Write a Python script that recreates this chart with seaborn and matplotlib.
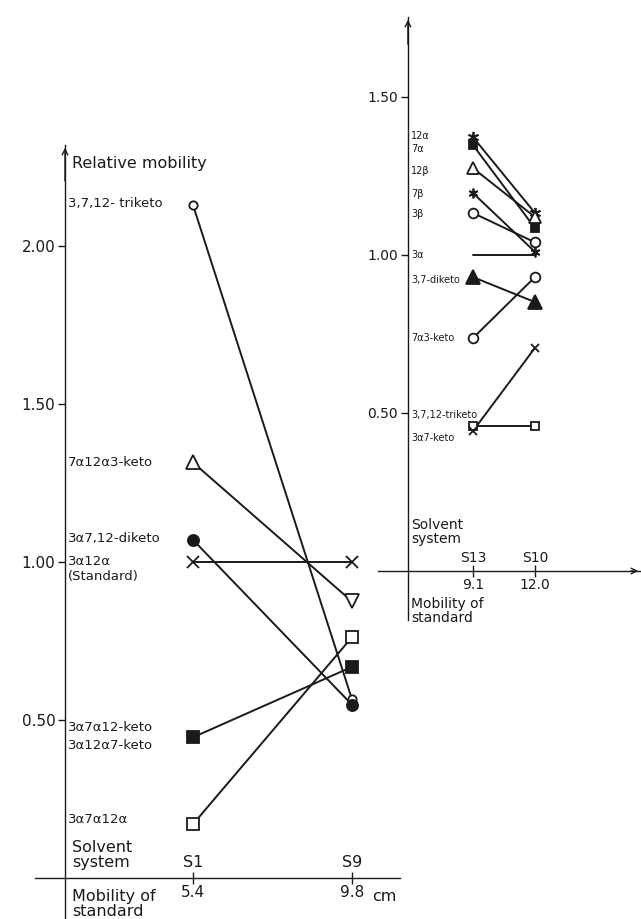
import matplotlib
matplotlib.use("Agg")
import matplotlib.pyplot as plt
import seaborn as sns

sns.set_style("white")
plt.rcParams['font.family'] = ['DejaVu Sans']

INK = '#1a1a1a'

# ---------------------------------------------------------------
# left chart: solvent systems S1 and S9
left_systems = ['S1', 'S9']
left_std = [5.4, 9.8]
left_names = ['3,7,12- triketo', '7α12α3-keto', '3α7,12-diketo', '3α12α',
              '3α7α12-keto', '3α7α12α']
left_s1 = [2.13, 1.315, 1.07, 1.00, 0.445, 0.17]
left_s9 = [0.565, 0.875, 0.548, 1.00, 0.668, 0.762]
left_mk1 = ['o', '^', 'o', 'x', 's', 's']
left_mk9 = ['o', 'v', 'o', 'x', 's', 's']
left_fill = [False, False, True, False, True, False]
left_size = [6, 10, 8, 8, 8, 8]
left_label_y = [2.136, 1.316, 1.073, 1.003, 0.475, 0.184]

# right chart: solvent systems S13 and S10
right_systems = ['S13', 'S10']
right_std = [9.1, 12.0]
right_names = ['12α', '7α', '12β', '7β', '3β', '3α', '3,7-diketo', '7α3-keto',
               '3,7,12-triketo', '3α7-keto']
right_s13 = [1.373, 1.348, 1.275, 1.196, 1.133, 1.00, 0.93, 0.737, 0.459, 0.443]
right_s10 = [1.133, 1.085, 1.12, 1.01, 1.04, 1.00, 0.851, 0.93, 0.459, 0.706]
right_mk = [(6, 2, 0), 's', '^', (6, 2, 0), 'o', None, '^', 'o', 's', 'x']
right_fill = [False, True, False, False, False, False, True, False, False, False]
right_size = [8, 6, 8, 7, 7, 0, 10, 7, 6, 6]
right_label_y = [1.377, 1.335, 1.266, 1.193, 1.130, 1.0, 0.921, 0.737, 0.494, 0.421]

# ---------------------------------------------------------------
W, H = 641, 919
fig = plt.figure(figsize=(W / 100, H / 100), dpi=100)


def make_axes(px_left, px_right, px_top, px_bottom):
    return fig.add_axes([px_left / W, 1 - px_bottom / H,
                         (px_right - px_left) / W, (px_bottom - px_top) / H])


def style_axes(ax, yaxis_x, yticks, xticks, xticklabels, fs):
    sns.despine(ax=ax, top=True, right=True)
    for side in ['left', 'bottom']:
        ax.spines[side].set_color(INK)
        ax.spines[side].set_linewidth(1.0)
    ax.spines['left'].set_position(('data', yaxis_x))
    ax.spines['bottom'].set_position(('data', 0))
    ax.set_yticks(yticks)
    ax.set_yticklabels(['%.2f' % v for v in yticks], fontsize=fs, color=INK)
    ax.set_xticks(xticks)
    ax.set_xticklabels(xticklabels, fontsize=fs, color=INK)
    ax.tick_params(axis='y', direction='out', length=5, width=1, color=INK, pad=2,
                   left=True)
    ax.tick_params(axis='x', direction='inout', length=8, width=1, color=INK, pad=1,
                   bottom=True)
    ax.patch.set_alpha(0)
    # arrow on top of the value axis
    ax.annotate('', xy=(yaxis_x, 1.0), xycoords=('data', 'axes fraction'),
                xytext=(yaxis_x, 0.95), textcoords=('data', 'axes fraction'),
                arrowprops=dict(arrowstyle='->', lw=1.0, color=INK))


def draw_point(ax, x, y, mk, filled, size):
    if mk is None:
        return
    ax.plot([x], [y], marker=mk, markersize=size, linestyle='none',
            markerfacecolor=INK if filled else 'white', markeredgecolor=INK,
            markeredgewidth=1.3, zorder=4, clip_on=False)


# ---------------------------------------------------------------
ax1 = make_axes(35, 400, 145, 918)
ax1.set_xlim(1.028, 11.128)
ax1.set_ylim(-0.127, 2.320)

for i in range(len(left_names)):
    sns.lineplot(x=left_std, y=[left_s1[i], left_s9[i]], ax=ax1, color=INK,
                 linewidth=1.4, zorder=3)
    draw_point(ax1, left_std[0], left_s1[i], left_mk1[i], left_fill[i], left_size[i])
    draw_point(ax1, left_std[1], left_s9[i], left_mk9[i], left_fill[i], left_size[i])

style_axes(ax1, 1.858, [0.5, 1.0, 1.5, 2.0], left_std, ['5.4', '9.8'], 11)

lx = 1.95
for name, yy in zip(left_names, left_label_y):
    ax1.text(lx, yy, name, fontsize=9.5, color=INK, va='center', ha='left')
ax1.text(lx, 0.953, '(Standard)', fontsize=9.5, color=INK, va='center', ha='left')
ax1.text(lx, 0.418, '3α12α7-keto', fontsize=9.5, color=INK, va='center', ha='left')
ax1.text(2.05, 2.263, 'Relative mobility', fontsize=11.5, color=INK, va='center')
ax1.text(2.05, 0.073, 'Solvent\nsystem', fontsize=11.5, color=INK, va='center',
         linespacing=0.95)
ax1.text(2.05, -0.083, 'Mobility of\nstandard', fontsize=11.5, color=INK, va='center',
         linespacing=0.95)
for xs, sname in zip(left_std, left_systems):
    ax1.text(xs, 0.05, sname, fontsize=11.5, color=INK, ha='center', va='center')
ax1.text(10.35, -0.058, 'cm', fontsize=11.5, color=INK, ha='left', va='center')

# ---------------------------------------------------------------
ax2 = make_axes(378, 641, 17, 620)
ax2.set_xlim(4.66, 16.96)
ax2.set_ylim(-0.155, 1.753)

for i in range(len(right_names)):
    sns.lineplot(x=right_std, y=[right_s13[i], right_s10[i]], ax=ax2, color=INK,
                 linewidth=1.4, zorder=3)
    draw_point(ax2, right_std[0], right_s13[i], right_mk[i], right_fill[i], right_size[i])
    draw_point(ax2, right_std[1], right_s10[i], right_mk[i], right_fill[i], right_size[i])

style_axes(ax2, 6.06, [0.5, 1.0, 1.5], right_std, ['9.1', '12.0'], 10)

rx = 6.2
for name, yy in zip(right_names, right_label_y):
    ax2.text(rx, yy, name, fontsize=7, color=INK, va='center', ha='left')
ax2.text(6.2, 0.123, 'Solvent\nsystem', fontsize=10, color=INK, va='center',
         linespacing=0.95)
ax2.text(6.2, -0.127, 'Mobility of\nstandard', fontsize=10, color=INK, va='center',
         linespacing=0.95)
for xs, sname in zip(right_std, right_systems):
    ax2.text(xs, 0.04, sname, fontsize=10, color=INK, ha='center', va='center')
ax2.annotate('', xy=(1.0, 0), xycoords=('axes fraction', 'data'),
             xytext=(0.95, 0), textcoords=('axes fraction', 'data'),
             arrowprops=dict(arrowstyle='->', lw=1.0, color=INK))

fig.savefig('out.png', dpi=100)
